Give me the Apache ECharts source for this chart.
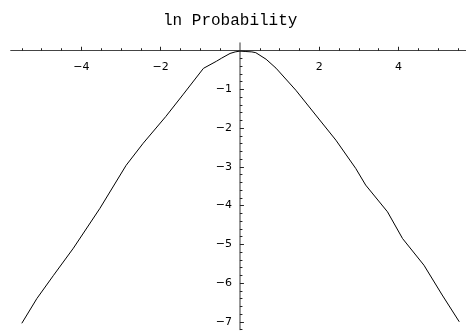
<!DOCTYPE html>
<html>
<head>
<meta charset="utf-8">
<script src="https://cdn.jsdelivr.net/npm/echarts@6/dist/echarts.min.js"></script>
<style>
html,body{margin:0;padding:0;background:#fff;}
#c{width:466px;height:331px;}
</style>
</head>
<body>
<div id="c"></div>
<script>
// Curve samples
var xs = [-5.5, -5.12, -4.7, -4.2, -3.53, -2.87, -2.44, -1.87, -1.44, -0.92, -0.59, -0.46, -0.25, -0.12, 0, 0.15, 0.3, 0.4, 0.66, 0.91, 1.41, 1.91, 2.42, 2.92, 3.17, 3.72, 4.1, 4.64, 5.1, 5.53];
var ys = [-7.04, -6.4, -5.8, -5.1, -4.07, -2.96, -2.39, -1.7, -1.14, -0.455, -0.27, -0.19, -0.07, -0.03, -0.01, -0.02, -0.03, -0.05, -0.22, -0.45, -1.02, -1.66, -2.31, -3.04, -3.47, -4.16, -4.85, -5.54, -6.31, -7.0];

// Tick values
var xMajor = [-4, -2, 2, 4];
var xMinor = [-5.5, -5, -4.5, -3.5, -3, -2.5, -1.5, -1, -0.5, 0.5, 1, 1.5, 2.5, 3, 3.5, 4.5, 5, 5.5];
var yMajor = [-7, -6, -5, -4, -3, -2, -1];
var yMinor = [-7.2, -6.8, -6.6, -6.4, -6.2, -5.8, -5.6, -5.4, -5.2, -4.8, -4.6, -4.4, -4.2, -3.8, -3.6, -3.4, -3.2, -2.8, -2.6, -2.4, -2.2, -1.8, -1.6, -1.4, -1.2, -0.8, -0.6, -0.4, -0.2];

var titleText = 'ln Probability';

var X_MIN = -5.78, X_MAX = 5.7, Y_MIN = -7.2, Y_MAX = 0.2;
var GL = 10.7, GR = 0, GT = 43, GB = 1.5;
var W = 466, H = 331;
// offsets that bring the axes to the zero lines
var xOff = -((H - GT - GB) * (Y_MAX / (Y_MAX - Y_MIN)));
var yOff = -((W - GL - GR) * (-X_MIN / (X_MAX - X_MIN)));

var data = xs.map(function (x, i) { return [x, ys[i]]; });
function fmt(v) { return String(v).replace('-', '\u2212'); }

var chart = echarts.init(document.getElementById('c'), null, {renderer: 'canvas'});
var labelFont = {fontFamily: 'DejaVu Sans', fontSize: 11, color: '#000'};

chart.setOption({
  animation: false,
  backgroundColor: '#fff',
  title: {
    text: titleText,
    left: 158,
    top: 8,
    textStyle: {fontFamily: 'Liberation Mono', fontSize: 16, fontWeight: 'normal', color: '#000'}
  },
  grid: {left: GL, right: GR, top: GT, bottom: GB, containLabel: false, outerBoundsMode: 'none'},
  xAxis: [
    {
      type: 'value', min: X_MIN, max: X_MAX, position: 'top', offset: xOff,
      axisLine: {show: true, onZero: false, lineStyle: {color: '#444', width: 1}},
      axisTick: {show: true, inside: false, length: 4, customValues: xMajor, lineStyle: {color: '#222', width: 1}},
      axisLabel: Object.assign({show: true, inside: true, margin: 11, customValues: xMajor, formatter: fmt, hideOverlap: false}, labelFont),
      splitLine: {show: false}
    },
    {
      type: 'value', min: X_MIN, max: X_MAX, position: 'top', offset: xOff,
      axisLine: {show: false, onZero: false},
      axisTick: {show: true, inside: false, length: 2.5, customValues: xMinor, lineStyle: {color: '#222', width: 1}},
      axisLabel: {show: false},
      splitLine: {show: false}
    }
  ],
  yAxis: [
    {
      type: 'value', min: Y_MIN, max: Y_MAX, position: 'left', offset: yOff,
      axisLine: {show: true, onZero: false, lineStyle: {color: '#777', width: 1.5}},
      axisTick: {show: true, inside: true, length: 4, customValues: yMajor, lineStyle: {color: '#222', width: 1}},
      axisLabel: Object.assign({show: true, margin: 8, customValues: yMajor, formatter: fmt, hideOverlap: false}, labelFont),
      splitLine: {show: false}
    },
    {
      type: 'value', min: Y_MIN, max: Y_MAX, position: 'left', offset: yOff,
      axisLine: {show: false, onZero: false},
      axisTick: {show: true, inside: true, length: 2.5, customValues: yMinor, lineStyle: {color: '#222', width: 1}},
      axisLabel: {show: false},
      splitLine: {show: false}
    }
  ],
  series: [{
    type: 'line',
    xAxisIndex: 0,
    yAxisIndex: 0,
    data: data,
    showSymbol: false,
    smooth: false,
    lineStyle: {color: '#000', width: 1},
    z: 3
  }]
});
</script>
</body>
</html>
